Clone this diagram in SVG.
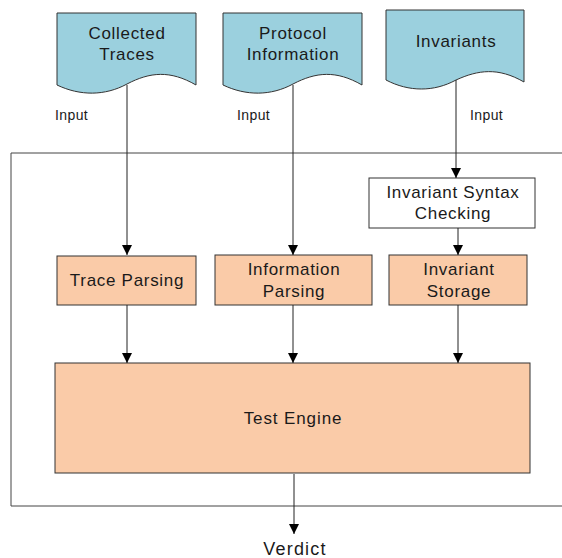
<svg xmlns="http://www.w3.org/2000/svg" width="562" height="558" viewBox="0 0 562 558">
<defs>
<marker id="ah" viewBox="0 0 10 10" refX="10" refY="5" markerWidth="10" markerHeight="10" markerUnits="userSpaceOnUse" orient="auto">
<path d="M0,0 L10,5 L0,10 Z" fill="#000"/>
</marker>
<style>
text{font-family:"Liberation Sans",Arial,sans-serif;fill:#1a1a1a;text-anchor:middle}
.lbl{font-size:17px;letter-spacing:0.7px}
.small{font-size:14px;text-anchor:start;letter-spacing:0.4px}
.doc{fill:#9BD0DE;stroke:#333;stroke-width:1}
.proc{fill:#FACBA8;stroke:#333;stroke-width:1}
.white{fill:#fff;stroke:#333;stroke-width:1}
.con{stroke:#222;stroke-width:1;fill:none;marker-end:url(#ah)}
</style>
</defs>
<rect width="562" height="558" fill="#fff"/>
<g id="container">
<path d="M562,153 H11 V506 H562" fill="none" stroke="#444" stroke-width="1"/>
</g>
<g id="collected-traces">
<path class="doc" d="M57,13 H196 V85 C170,70 150,72 127,84 C105,96 80,96 57,85 Z"/>
<text class="lbl" x="127" y="39">Collected</text>
<text class="lbl" x="127" y="60">Traces</text>
</g>
<g id="protocol-information">
<path class="doc" d="M223,13 H362 V85 C336,70 316,72 293,84 C271,96 246,96 223,85 Z"/>
<text class="lbl" x="293" y="39">Protocol</text>
<text class="lbl" x="293" y="60">Information</text>
</g>
<g id="invariants">
<path class="doc" d="M386,10 H524 V82 C498,67 478,70 456,80 C434,92 409,92 386,80 Z"/>
<text class="lbl" x="456" y="47">Invariants</text>
</g>
<g id="labels">
<text class="small" x="55" y="120">Input</text>
<text class="small" x="237" y="120">Input</text>
<text class="small" x="470" y="120">Input</text>
</g>
<g id="syntax-checking">
<rect class="white" x="369" y="178" width="166" height="50"/>
<text class="lbl" x="453" y="198">Invariant Syntax</text>
<text class="lbl" x="453" y="219">Checking</text>
</g>
<g id="trace-parsing">
<rect class="proc" x="57" y="256" width="139" height="49"/>
<text class="lbl" x="127" y="286">Trace Parsing</text>
</g>
<g id="information-parsing">
<rect class="proc" x="215" y="255" width="157" height="50"/>
<text class="lbl" x="294" y="275">Information</text>
<text class="lbl" x="294" y="297">Parsing</text>
</g>
<g id="invariant-storage">
<rect class="proc" x="389" y="255" width="138" height="50"/>
<text class="lbl" x="459" y="275">Invariant</text>
<text class="lbl" x="459" y="297">Storage</text>
</g>
<g id="test-engine">
<rect class="proc" x="55" y="363" width="475" height="110"/>
<text class="lbl" x="293" y="424" style="letter-spacing:0.9px">Test Engine</text>
</g>
<g id="verdict">
<text class="lbl" x="295" y="555" style="font-size:18px;letter-spacing:1.2px">Verdict</text>
</g>
<g id="connectors">
<line class="con" x1="127" y1="85" x2="127" y2="255"/>
<line class="con" x1="293" y1="85" x2="293" y2="255"/>
<line class="con" x1="456" y1="80" x2="456" y2="178"/>
<line class="con" x1="458" y1="228" x2="458" y2="255"/>
<line class="con" x1="127" y1="305" x2="127" y2="363"/>
<line class="con" x1="293" y1="305" x2="293" y2="363"/>
<line class="con" x1="458" y1="305" x2="458" y2="363"/>
<line class="con" x1="294" y1="474" x2="294" y2="534"/>
</g>
</svg>
